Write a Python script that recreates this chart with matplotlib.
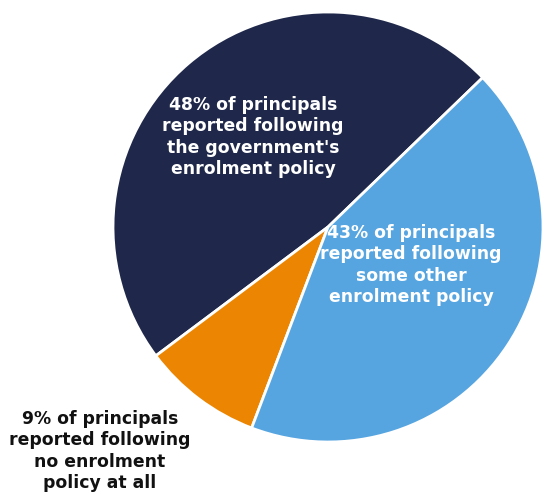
import matplotlib
matplotlib.use("Agg")
import matplotlib.pyplot as plt

categories = ["government's enrolment policy", "no enrolment policy", "some other enrolment policy"]
values = [48, 9, 43]
colors = ["#1f284a", "#ec8602", "#56a5e0"]
labels = [
    "48% of principals\nreported following\nthe government's\nenrolment policy",
    "9% of principals\nreported following\nno enrolment\npolicy at all",
    "43% of principals\nreported following\nsome other\nenrolment policy",
]
label_pos = [(253, 137), (100, 451), (411, 265)]
label_colors = ["white", "#111111", "white"]

W, H = 546, 495
fig = plt.figure(figsize=(W / 100, H / 100), dpi=100)
ax = fig.add_axes([0, 0, 1, 1])
ax.pie(values, colors=colors, startangle=44, counterclock=True,
       center=(328, H - 227), radius=215, frame=True,
       wedgeprops=dict(edgecolor="white", linewidth=2))
ax.set_xlim(0, W)
ax.set_ylim(0, H)
ax.set_aspect("equal")
ax.axis("off")

for txt, (x, y), c in zip(labels, label_pos, label_colors):
    ax.text(x, H - y, txt, ha="center", va="center", color=c,
            fontsize=12.4, fontweight="bold", family="DejaVu Sans",
            linespacing=1.22)

fig.savefig("out.png", dpi=100)
